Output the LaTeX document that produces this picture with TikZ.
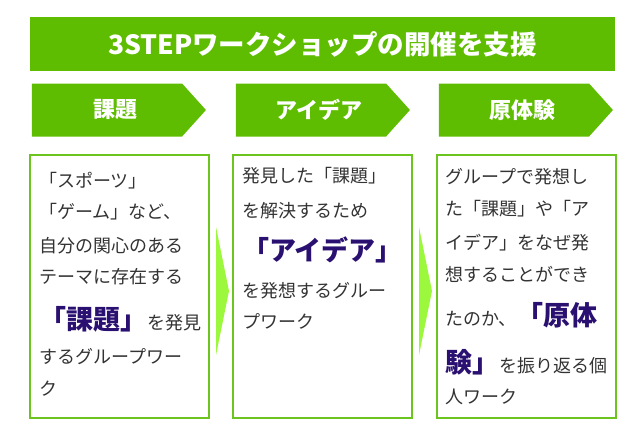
\documentclass[tikz,border=0pt]{standalone}
\usepackage{fontspec}
\setmainfont{Noto Sans CJK JP}
\usepackage{xcolor}
\usetikzlibrary{calc,shapes.symbols}

\definecolor{verdepaso}{RGB}{94,189,0}
\definecolor{verdecaja}{RGB}{108,196,30}
\definecolor{verdeflecha}{RGB}{155,248,60}
\definecolor{textogris}{RGB}{51,51,51}
\definecolor{enfasis}{RGB}{42,16,112}

\newcommand{\resalta}[1]{{\color{enfasis}\bfseries\fontsize{27}{27}\selectfont #1}}

\begin{document}
\begin{tikzpicture}[x=1pt, y=-1pt,
        % Medidas tomadas en píxeles de la imagen
        banner/.style={rectangle, fill=verdepaso, text=white, font=\bfseries\fontsize{26.5}{26.5}\selectfont, minimum width=585pt, minimum height=54pt, inner sep=0pt},
        stage/.style={signal, signal to=east, signal pointer angle=96, fill=verdepaso, text=white, font=\bfseries\fontsize{22}{22}\selectfont, minimum width=174pt, minimum height=53pt, inner sep=0pt},
        panel/.style={rectangle, draw=verdecaja, line width=2pt, fill=white, minimum width=179pt, minimum height=263pt},
        bodytext/.style={anchor=base west, inner sep=0pt, text=textogris, font=\fontsize{18}{18}\selectfont},
        chevron/.style={fill=verdeflecha}
    ]
        \fill[white] (0,0) rectangle (640,426);
        \useasboundingbox (0,0) rectangle (640,426);

        \node [banner] (title) at (322.5,44) {3STEPワークショップの開催を支援};

        \node [stage] (stage1) at (107,110) {\hspace{16pt}課題};
        \node [stage] (stage2) at (311,110) {\hspace{16pt}アイデア};
        \node [stage] (stage3) at (514,110) {\hspace{16pt}原体験};

        \node [panel] (panel1) at (119.5,286.5) {};
        \node [panel] (panel2) at (322.5,286.5) {};
        \node [panel] (panel3) at (526.5,286.5) {};

        \foreach \y/\txt [count=\i] in {187/{「スポーツ」}, 218/{「ゲーム」など、}, 252/{自分の関心のある}, 283/{テーマに存在する}, 329/{\resalta{「課題」}を発見}, 363/{するグループワー}, 395/{ク}}
            \node [bodytext] (p1l\i) at (39,\y) {\txt};

        \foreach \y/\txt [count=\i] in {182/{発見した「課題」}, 217/{を解決するため}, 260/{\resalta{「アイデア」}}, 297/{を発想するグルー}, 328/{プワーク}}
            \node [bodytext] (p2l\i) at (242,\y) {\txt};

        \foreach \y/\txt [count=\i] in {183/{グループで発想し}, 215/{た「課題」や「ア}, 249/{イデア」をなぜ発}, 281/{想することができ}, 325/{たのか、\resalta{「原体}}, 372/{\resalta{験」}を振り返る個}, 403/{人ワーク}}
            \node [bodytext] (p3l\i) at (445,\y) {\txt};

        \fill[chevron] ($(panel1.east)+(6,-59.5)$) -- ($(panel1.east)+(19,4.5)$) -- ($(panel1.east)+(6,68.5)$) -- cycle;
        \fill[chevron] ($(panel2.east)+(6,-59.5)$) -- ($(panel2.east)+(19,4.5)$) -- ($(panel2.east)+(6,68.5)$) -- cycle;
    \end{tikzpicture}
\end{document}
